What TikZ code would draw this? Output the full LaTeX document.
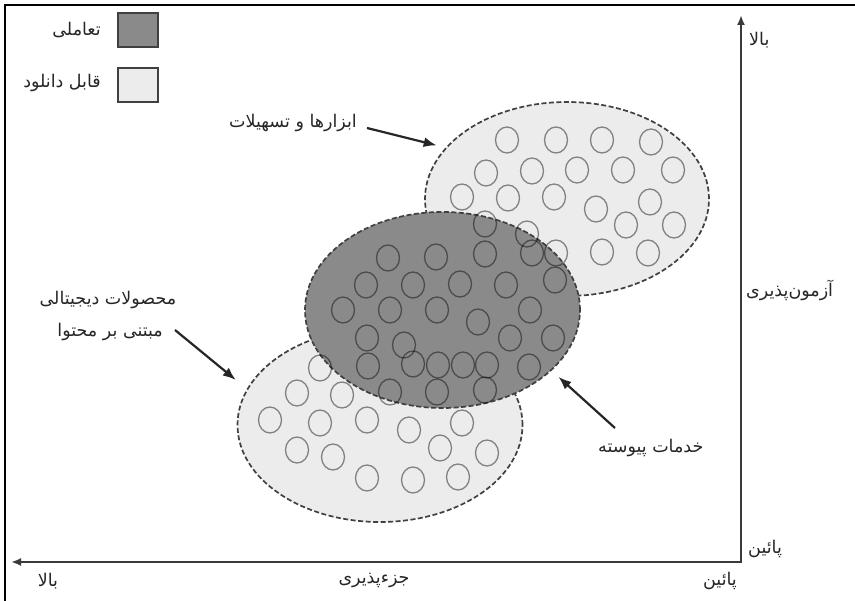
\documentclass[tikz,border=0pt]{standalone}
\usepackage{fontspec}
\usetikzlibrary{shapes.geometric,arrows.meta}
\newfontfamily\fa[Script=Arabic]{DejaVu Sans}
\TeXXeTstate=1

\definecolor{darkfill}{HTML}{8A8A8A}
\definecolor{lightfill}{HTML}{ECECEC}
\definecolor{edge}{HTML}{404040}
\definecolor{ink}{HTML}{262626}
\definecolor{axisc}{HTML}{3A3A3A}

\tikzset{
  group/.style={ellipse, draw=edge, line width=1.7pt, dash pattern=on 5pt off 2.5pt,
    inner sep=0pt, outer sep=0pt},
  dot/.style={draw=black, draw opacity=0.45, line width=1.3pt},
  keybox/.style={draw=edge, line width=1.5pt, minimum width=40pt, minimum height=34pt,
    inner sep=0pt},
  lbl/.style={text=ink, font=\fa\fontsize{17.5}{22}\selectfont, inner sep=0pt},
  arr/.style={draw=ink, line width=2.2pt, -{Latex[length=13pt,width=10pt]}},
  axisline/.style={draw=axisc, line width=2pt, {Latex[length=10pt,width=8pt]}-{Latex[length=10pt,width=8pt]}},
}

\begin{document}
\begin{tikzpicture}[x=1pt,y=-1pt]
  \useasboundingbox (0,0) rectangle (855,601);
  \fill[white] (0,0) rectangle (855,601);

  % frame edges
  \draw[black, line width=2.6pt] (5,601) -- (5,5) -- (855,5);

  % legend
  \node[keybox, fill=darkfill] (key dark) at (138,30) {};
  \node[keybox, fill=lightfill] (key light) at (138,85) {};
  \node[lbl, anchor=east] (key dark lbl) at (101,30) {\beginR تعاملی\endR};
  \node[lbl, anchor=east] (key light lbl) at (101,83) {\beginR قابل دانلود\endR};

  % axes
  \coordinate (ytop) at (741,15);
  \coordinate (origin) at (741,562);
  \coordinate (xend) at (11,562);
  \draw[axisline] (ytop) -- (origin) -- (xend);

  \node[lbl, anchor=west] (y high) at (749,40) {\beginR بالا\endR};
  \node[lbl, anchor=west] (y name) at (746,290) {\beginR آزمون^^^^200cپذیری\endR};
  \node[lbl, anchor=west] (y low) at (748,549) {\beginR پائین\endR};
  \node[lbl] (x high) at (48,581) {\beginR بالا\endR};
  \node[lbl] (x name) at (374,581) {\beginR جزء^^^^200cپذیری\endR};
  \node[lbl] (x low) at (720,581) {\beginR پائین\endR};

  % the three groups
  \node[group, fill=lightfill, minimum width=284pt, minimum height=194pt] (tools) at (567,199) {};
  \node[group, fill=lightfill, minimum width=285pt, minimum height=194pt] (content) at (380,425) {};
  \node[group, fill=darkfill, minimum width=275pt, minimum height=196pt] (services) at (442.5,310) {};

  % small items inside the groups
  \foreach \x/\y in {
    507/140, 556/140, 602/140, 651/142,
    486/173, 532/171, 577/170, 623/170, 673/170,
    462/197, 508/198, 554/197, 596/209, 650/202,
    626/225, 674/225, 602/252, 648/253,
    485/224, 527/234, 532/253, 556/253, 485/254, 436/257,
    555/280, 506/285, 460/284,
    388/258, 413/285, 366/285,
    343/310, 390/310, 437/310, 478/322, 530/310,
    367/338, 404/345, 510/338, 553/338,
    368/366, 413/364, 438/365, 463/365, 487/365, 529/367,
    390/392, 437/392, 485/390,
    320/368, 297/393, 342/395,
    270/420, 320/423, 367/420, 409/430, 462/423,
    297/450, 333/457, 440/448, 487/453,
    367/478, 413/480, 458/477}
    \draw[dot] (\x,\y) ellipse [x radius=11.5pt, y radius=13pt];

  % callouts
  \node[lbl, anchor=east] (tools lbl) at (357,123) {\beginR ابزارها و تسهیلات\endR};
  \node[lbl] (content lbl a) at (108,300) {\beginR محصولات دیجیتالی\endR};
  \node[lbl, anchor=east] (content lbl b) at (163,332) {\beginR مبتنی بر محتوا\endR};
  \node[lbl, anchor=west] (services lbl) at (598,448) {\beginR خدمات پیوسته\endR};

  \draw[arr, shorten >=10pt] ([shift={(10,5)}]tools lbl.east) -- (tools.157);
  \draw[arr, shorten >=15pt] ([shift={(12,-2)}]content lbl b.east) -- (content.165);
  \draw[arr, shorten >=10pt] ([shift={(17,-20)}]services lbl.west) -- (services.-29);
\end{tikzpicture}
\end{document}
